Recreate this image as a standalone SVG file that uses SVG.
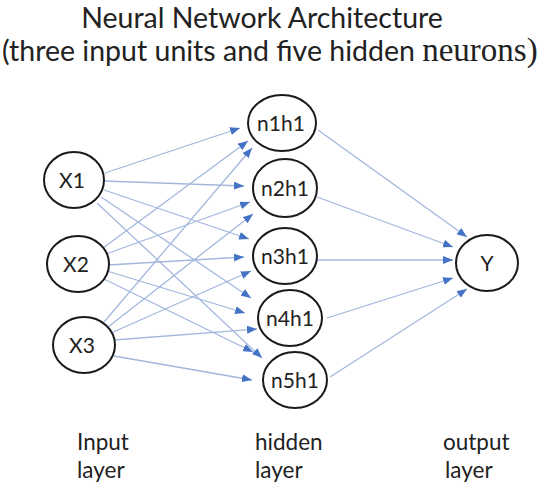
<svg xmlns="http://www.w3.org/2000/svg" width="550" height="492" viewBox="0 0 550 492">
<style>
.node ellipse{fill:#fff;stroke:#1a1a1a;stroke-width:2}
.node text{font-family:Lato,"Open Sans",sans-serif;font-size:21px;fill:#222;text-anchor:middle}
.edge{stroke:#a3b7dd;stroke-width:1.3;fill:none;marker-end:url(#arr)}
.title{font-family:Lato,"Open Sans",sans-serif;font-size:28.5px;fill:#222}
.lbl{font-family:Lato,"Open Sans",sans-serif;font-size:22.5px;fill:#222}
</style>
<defs>
<marker id="arr" markerWidth="10" markerHeight="8" refX="10" refY="4" orient="auto" markerUnits="userSpaceOnUse">
<path d="M0,0 L10,4 L0,8 Z" fill="#4472c4"/>
</marker>
</defs>
<rect width="550" height="492" fill="#fff"/>
<text class="title" x="262" y="28" text-anchor="middle">Neural Network Architecture</text>
<text class="title" x="2" y="61" font-size="29">(three input units and five hidden <tspan font-family="'Liberation Serif',serif" font-size="33">neurons)</tspan></text>
<g id="connectors">
<line class="edge" x1="105" y1="173" x2="240" y2="128"/>
<line class="edge" x1="104" y1="181" x2="244" y2="186"/>
<line class="edge" x1="104" y1="190" x2="249" y2="239"/>
<line class="edge" x1="101" y1="197" x2="251" y2="298"/>
<line class="edge" x1="97" y1="203" x2="262" y2="358"/>
<line class="edge" x1="103" y1="248" x2="248" y2="141"/>
<line class="edge" x1="106" y1="254" x2="250" y2="202"/>
<line class="edge" x1="108" y1="265" x2="244" y2="257"/>
<line class="edge" x1="107" y1="271" x2="245" y2="313"/>
<line class="edge" x1="104" y1="279" x2="253" y2="352"/>
<line class="edge" x1="104" y1="322" x2="252" y2="148"/>
<line class="edge" x1="108" y1="327" x2="253" y2="214"/>
<line class="edge" x1="111" y1="333" x2="251" y2="271"/>
<line class="edge" x1="114" y1="340" x2="257" y2="329"/>
<line class="edge" x1="114" y1="356" x2="252" y2="380"/>
<line class="edge" x1="318" y1="130" x2="467" y2="237"/>
<line class="edge" x1="317" y1="197" x2="453" y2="247"/>
<line class="edge" x1="316" y1="260" x2="453" y2="260"/>
<line class="edge" x1="327" y1="318" x2="453" y2="278"/>
<line class="edge" x1="330" y1="377" x2="467" y2="289"/>
</g>
<g id="X1" class="node"><ellipse cx="74" cy="180" rx="30" ry="28"/><text x="72" y="188">X1</text></g>
<g id="X2" class="node"><ellipse cx="78" cy="264" rx="31" ry="28"/><text x="76" y="272">X2</text></g>
<g id="X3" class="node"><ellipse cx="84" cy="345" rx="31" ry="28"/><text x="82" y="353">X3</text></g>
<g id="n1h1" class="node"><ellipse cx="282" cy="123" rx="34" ry="28"/><text x="281" y="131">n1h1</text></g>
<g id="n2h1" class="node"><ellipse cx="285" cy="188" rx="32" ry="29"/><text x="285" y="196">n2h1</text></g>
<g id="n3h1" class="node"><ellipse cx="285" cy="256" rx="32" ry="28"/><text x="285" y="264">n3h1</text></g>
<g id="n4h1" class="node"><ellipse cx="290" cy="318" rx="32" ry="28"/><text x="290" y="326">n4h1</text></g>
<g id="n5h1" class="node"><ellipse cx="295" cy="380" rx="32" ry="28"/><text x="295" y="388">n5h1</text></g>
<g id="Y" class="node"><ellipse cx="487" cy="263" rx="31" ry="28"/><text x="487" y="271">Y</text></g>
<g id="labels">
<text class="lbl" x="77" y="450">Input</text>
<text class="lbl" x="77" y="478">layer</text>
<text class="lbl" x="255" y="450">hidden</text>
<text class="lbl" x="255" y="478">layer</text>
<text class="lbl" x="443" y="450">output</text>
<text class="lbl" x="445" y="478">layer</text>
</g>
</svg>
